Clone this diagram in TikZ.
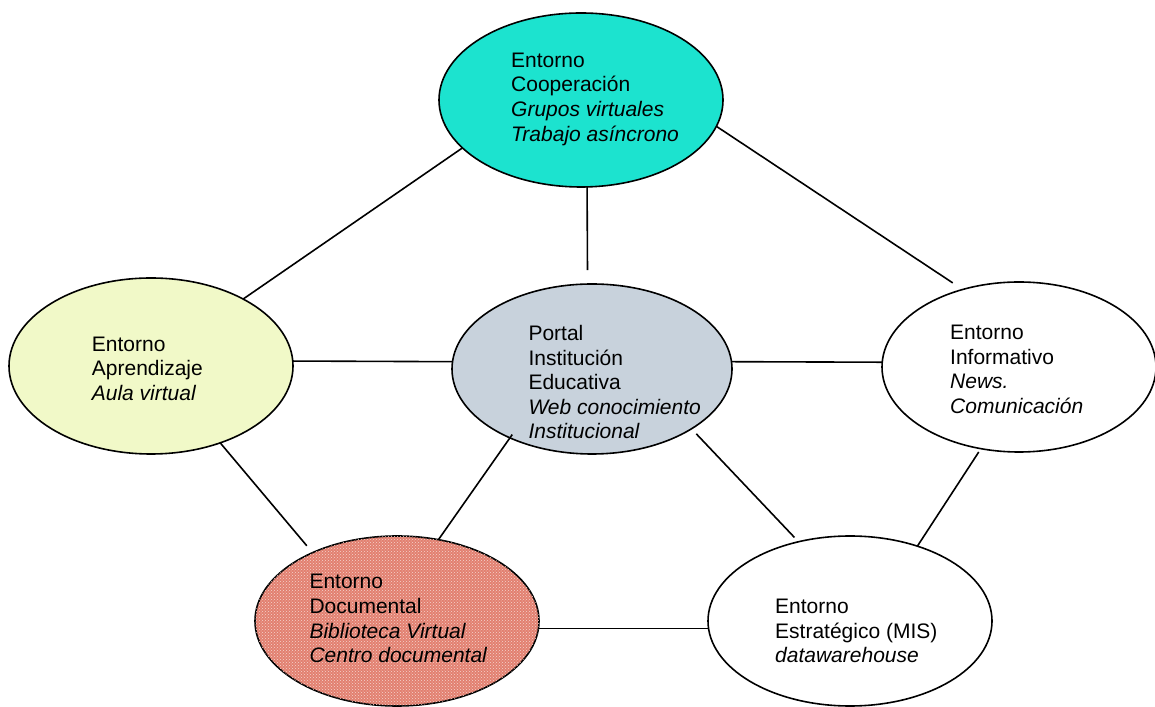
\documentclass[tikz,border=0pt]{standalone}
\usepackage{fontspec}
\setmainfont{Liberation Sans}
\usepackage{tikz}
\usetikzlibrary{shapes.geometric,patterns}
\definecolor{coopcol}{RGB}{28,227,207}
\definecolor{portalcol}{RGB}{200,210,220}
\definecolor{aprendcol}{RGB}{241,249,200}
\definecolor{doccol}{RGB}{226,128,112}

\tikzset{
  env/.style={draw,ellipse,line width=1.6pt,inner sep=0pt,outer sep=0pt},
  txt/.style={anchor=north west,align=left,inner sep=0pt,font=\fontsize{21}{24.6}\selectfont},
  link/.style={line width=1.6pt}
}

\begin{document}
\begin{tikzpicture}[x=1pt,y=1pt]
\useasboundingbox (0,0) rectangle (1155,706);
% ellipses
\node[env,fill=coopcol,minimum width=284pt,minimum height=174pt] (coop) at (581,606) {};
\node[env,fill=portalcol,minimum width=280pt,minimum height=170pt] (portal) at (592,337) {};
\node[env,fill=aprendcol,minimum width=284pt,minimum height=176pt] (aprend) at (151,340) {};
\node[env,fill=white,minimum width=274pt,minimum height=170pt] (info) at (1019,339) {};
\node[env,fill=doccol,postaction={pattern=crosshatch dots,pattern color=doccol!35!white},
  minimum width=284pt,minimum height=170pt] (docum) at (397,85) {};
\node[env,fill=white,minimum width=284pt,minimum height=170pt] (estrat) at (850,85) {};
% connecting lines
\draw[link] (coop.202) -- (aprend.36);
\draw[link,shorten >=14pt] (coop.274) -- (portal.93);
\draw[link,shorten >=12pt] (coop.349) -- (info.126);
\draw[link] (aprend.2) -- (portal.177);
\draw[link] (portal.3) -- (info.178);
\draw[link,shorten >=9pt] (aprend.312) -- (docum.141);
\draw[link,shorten <=-4pt] (portal.220) -- (docum.63);
\draw[link,shorten <=7pt,shorten >=6pt] (portal.329) -- (estrat.123);
\draw[link,shorten <=4pt] (info.245) -- (estrat.48);
\draw[link] (docum.357) -- (estrat.183);
% texts
\node[txt] (coop-t) at (511,653.3) {Entorno\\Cooperación\\\textit{Grupos virtuales}\\\textit{Trabajo asíncrono}};
\node[txt] (portal-t) at (528.3,381) {Portal\\Institución\\Educativa\\\textit{Web conocimiento}\\\textit{Institucional}};
\node[txt] (aprend-t) at (91.7,369.3) {Entorno\\Aprendizaje\\\textit{Aula virtual}};
\node[txt] (info-t) at (950,381) {Entorno\\Informativo\\\textit{News.}\\\textit{Comunicación}};
\node[txt] (docum-t) at (309.3,131.7) {Entorno\\Documental\\\textit{Biblioteca Virtual}\\\textit{Centro documental}};
\node[txt] (estrat-t) at (775,107) {Entorno\\Estratégico (MIS)\\\textit{datawarehouse}};
\end{tikzpicture}
\end{document}
